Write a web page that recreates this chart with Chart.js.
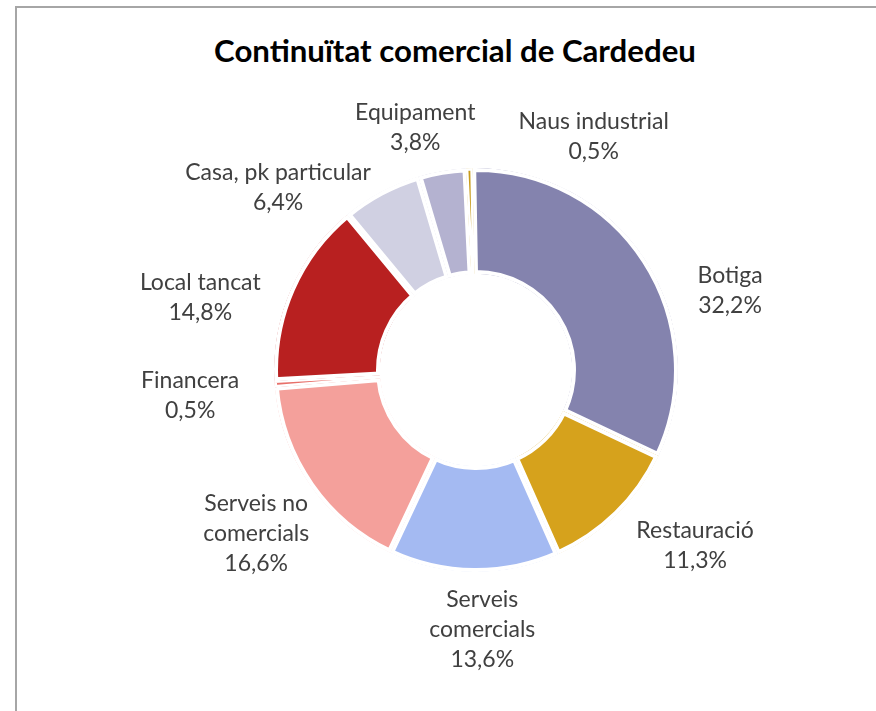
<!DOCTYPE html>
<html>
<head>
<meta charset="utf-8">
<script src="https://cdn.jsdelivr.net/npm/chart.js@4.4.1/dist/chart.umd.min.js"></script>
<style>
  html, body { margin: 0; padding: 0; background: #fff; overflow: hidden; }
  #wrap { position: relative; width: 876px; height: 711px; }
  #frame { position: absolute; left: 15px; top: 6px; width: 900px; height: 760px; border: 2px solid #a6a6a6; box-sizing: border-box; }
  #title { position: absolute; left: 16px; width: 878px; top: 32px; text-align: center; line-height: 36px;
           font-family: Lato, "Open Sans", sans-serif; font-weight: bold; font-size: 31.2px; color: #000; }
  canvas { position: absolute; left: 0; top: 0; }
</style>
</head>
<body>
<div id="wrap">
  <div id="frame"></div>
  <div id="title">Continuïtat comercial de Cardedeu</div>
  <canvas id="c" width="876" height="711"></canvas>
</div>
<script>
const categories = ['Botiga', 'Restauració', 'Serveis comercials', 'Serveis no comercials', 'Financera', 'Local tancat', 'Casa, pk particular', 'Equipament', 'Naus industrial'];
const shares = [32.2, 11.3, 13.6, 16.6, 0.5, 14.8, 6.4, 3.8, 0.5];
const colors = ['#8483ae', '#d6a21c', '#a4baf2', '#f4a09b', '#e8706a', '#b82020', '#d0d0e2', '#b4b2d0', '#c89b1a'];

// label layout (text wrapping and nudges relative to arc mid-angle)
const labelLayout = {
  'Botiga':               { lines: ['Botiga'],               dAng: 15.6, r: 266 },
  'Restauració':          { lines: ['Restauració'],          dAng: -6.9, r: 281 },
  'Serveis comercials':   { lines: ['Serveis', 'comercials'], dAng: -2,  r: 260 },
  'Serveis no comercials':{ lines: ['Serveis no', 'comercials'], dAng: -1.8, r: 274 },
  'Financera':            { lines: ['Financera'],            dAng: -1.2, r: 287 },
  'Local tancat':         { lines: ['Local tancat'],         dAng: -9,   r: 285 },
  'Casa, pk particular':  { lines: ['Casa, pk particular'],  dAng: -19.3, r: 269 },
  'Equipament':           { lines: ['Equipament'],           dAng: -4.4, r: 250 },
  'Naus industrial':      { lines: ['Naus industrial'],      dAng: 28.7, r: 261 }
};

const labelPlugin = {
  id: 'outLabels',
  afterDatasetsDraw(chart) {
    const ctx = chart.ctx;
    const meta = chart.getDatasetMeta(0);
    ctx.save();
    ctx.font = '23px Lato, "Open Sans", sans-serif';
    ctx.fillStyle = '#404040';
    ctx.textAlign = 'center';
    ctx.textBaseline = 'middle';
    const lh = 30;
    meta.data.forEach((arc, i) => {
      const name = categories[i];
      const lay = labelLayout[name];
      const mid = (arc.startAngle + arc.endAngle) / 2 + lay.dAng * Math.PI / 180;
      const cx = arc.x + Math.cos(mid) * lay.r;
      const cy = arc.y + Math.sin(mid) * lay.r;
      const lines = lay.lines.concat([shares[i].toFixed(1).replace('.', ',') + '%']);
      const y0 = cy - (lines.length - 1) * lh / 2;
      lines.forEach((t, k) => ctx.fillText(t, cx, y0 + k * lh));
    });
    ctx.restore();
  }
};

new Chart(document.getElementById('c'), {
  type: 'doughnut',
  data: {
    labels: categories,
    datasets: [{
      data: shares,
      backgroundColor: colors,
      borderColor: '#ffffff',
      borderAlign: 'inner',
      borderWidth: (c) => (shares[c.dataIndex] < 1 ? 2.2 : 3.7),
      hoverOffset: 0
    }]
  },
  options: {
    responsive: false,
    animation: false,
    rotation: -1,
    cutout: '47.5%',
    layout: { padding: { left: 274, right: 198, top: 168, bottom: 139 } },
    plugins: {
      legend: { display: false },
      title: { display: false },
      tooltip: { enabled: false }
    }
  },
  plugins: [labelPlugin]
});
</script>
</body>
</html>
